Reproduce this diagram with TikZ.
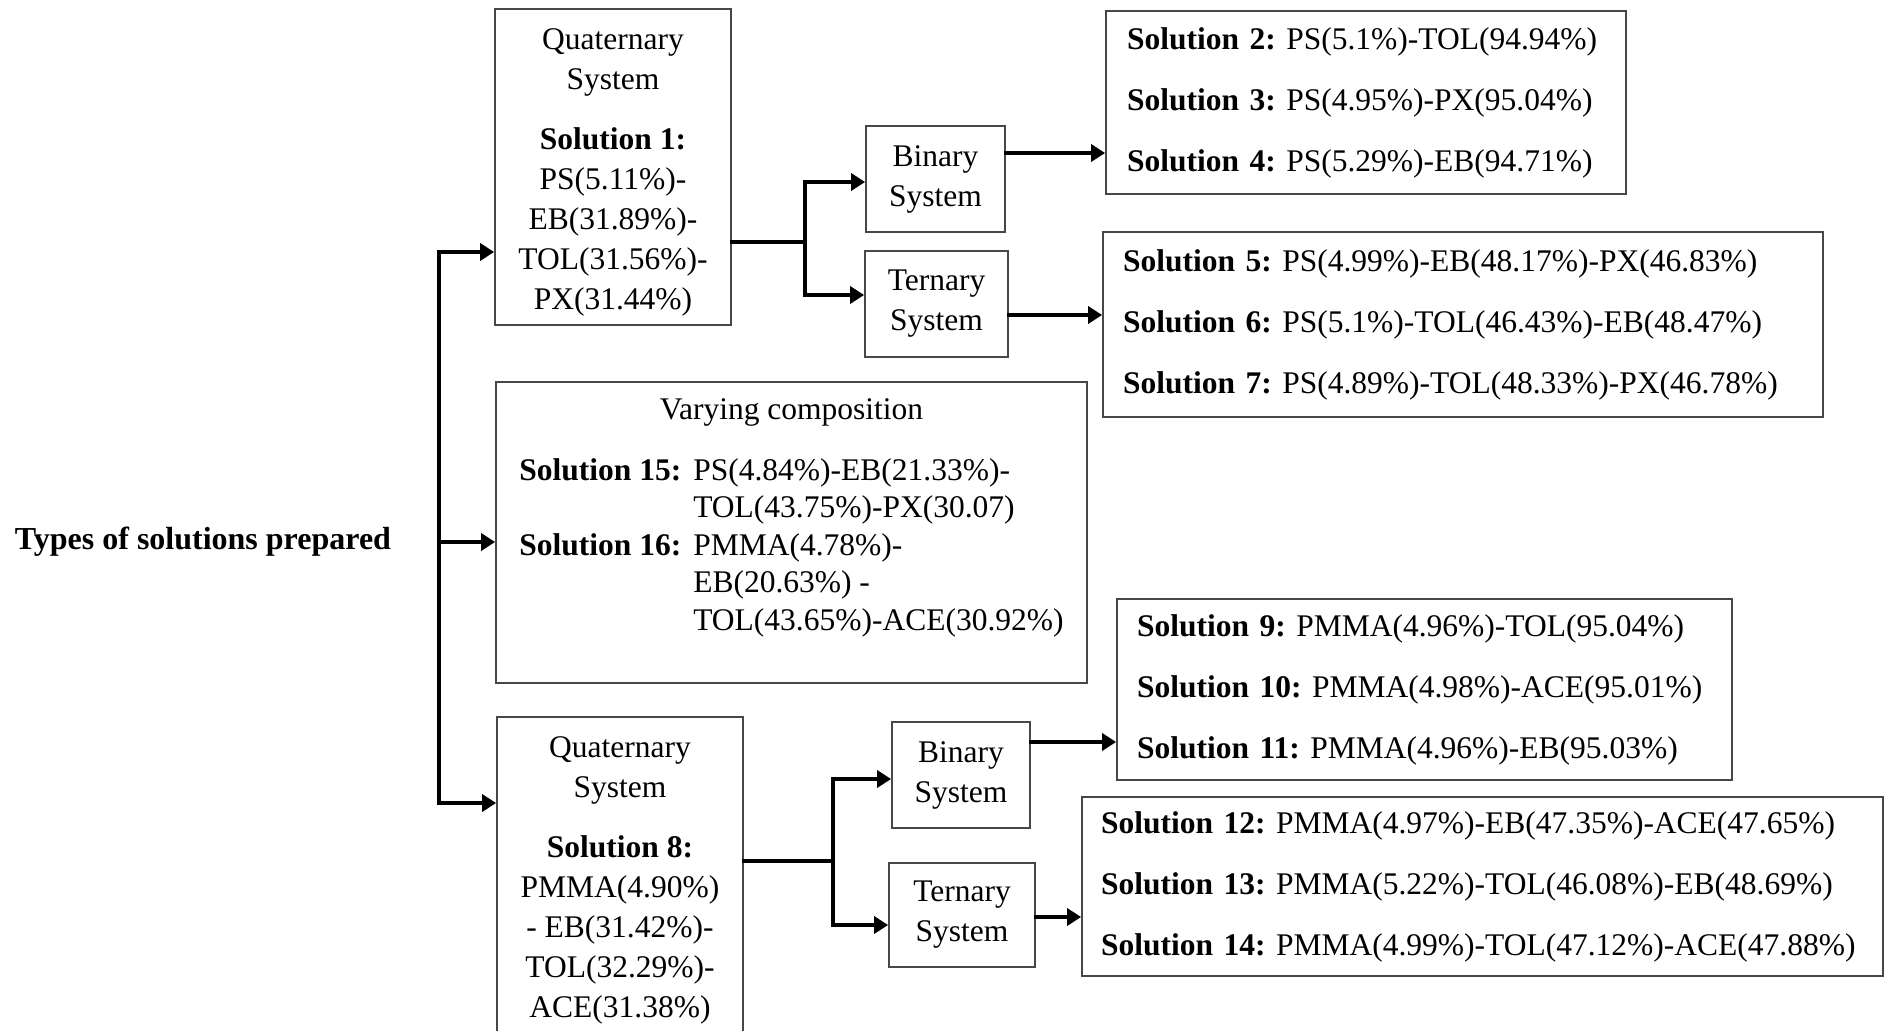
\documentclass[tikz,border=0pt]{standalone}
\usepackage{fontspec}
\setmainfont{Liberation Serif}
\usetikzlibrary{arrows.meta}
\frenchspacing
\begin{document}
\begin{tikzpicture}[x=1pt,y=-1pt,
  box/.style={draw=black!72, line width=1.8pt, inner sep=0pt, align=center,
    font=\fontsize{31.5}{40}\selectfont},
  solbox/.style={draw=black!72, line width=1.8pt, inner ysep=0pt, align=left,
    font=\fontsize{31.5}{40}\selectfont},
  conn/.style={line width=4.2pt, line cap=rect},
  arr/.style={conn, -{Triangle[length=14pt,width=17pt]}}]
\useasboundingbox (0,0) rectangle (1886,1030);
\clip (0,0) rectangle (1886,1030);

% title
\node[font=\fontsize{32}{40}\selectfont\bfseries, inner sep=0pt] (types) at (203,542) {Types of solutions prepared};

% main boxes
\node[box, minimum width=236pt, minimum height=316pt] (q1) at (613,167)
  {\rule{0pt}{31pt}Quaternary\\System\\[20pt]\textbf{Solution 1:}\\PS(5.11\%)-\\EB(31.89\%)-\\TOL(31.56\%)-\\PX(31.44\%)};

\node[box, minimum width=591pt, minimum height=301pt, font=\fontsize{31.5}{37.5}\selectfont] (vary) at (791.5,532.5)
  {\begin{tabular}{@{}l@{\hspace{12pt}}l@{}}
   \multicolumn{2}{@{}c@{}}{Varying composition}\\[23.5pt]
   \textbf{Solution 15:} & PS(4.84\%)-EB(21.33\%)-\\
    & TOL(43.75\%)-PX(30.07)\\
   \textbf{Solution 16:} & PMMA(4.78\%)-\\
    & EB(20.63\%) -\\
    & TOL(43.65\%)-ACE(30.92\%)\\[31pt]
   \end{tabular}};

\node[box, minimum width=246pt, minimum height=316pt] (q2) at (620,875)
  {\rule{0pt}{31pt}Quaternary\\System\\[20pt]\textbf{Solution 8:}\\PMMA(4.90\%)\\- EB(31.42\%)-\\TOL(32.29\%)-\\ACE(31.38\%)};

% system boxes
\node[box, minimum width=139pt, minimum height=106pt] (b1) at (935.5,179) {Binary\\System};
\node[box, minimum width=143pt, minimum height=106pt] (t1) at (936.5,304) {Ternary\\System};
\node[box, minimum width=138pt, minimum height=106pt] (b2) at (961,775) {Binary\\System};
\node[box, minimum width=146pt, minimum height=104pt] (t2) at (962,915) {Ternary\\System};

% solution lists
\node[solbox, text width=478pt, inner xsep=21pt, minimum height=183pt] (s24) at (1366,102.5)
  {\textbf{Solution 2:} PS(5.1\%)-TOL(94.94\%)\\[21pt]
   \textbf{Solution 3:} PS(4.95\%)-PX(95.04\%)\\[21pt]
   \textbf{Solution 4:} PS(5.29\%)-EB(94.71\%)};
\node[solbox, text width=680pt, inner xsep=20pt, minimum height=185pt] (s57) at (1463,324.5)
  {\textbf{Solution 5:} PS(4.99\%)-EB(48.17\%)-PX(46.83\%)\\[21pt]
   \textbf{Solution 6:} PS(5.1\%)-TOL(46.43\%)-EB(48.47\%)\\[21pt]
   \textbf{Solution 7:} PS(4.89\%)-TOL(48.33\%)-PX(46.78\%)};
\node[solbox, text width=575pt, inner xsep=20pt, minimum height=181pt] (s911) at (1424.5,689.5)
  {\textbf{Solution 9:} PMMA(4.96\%)-TOL(95.04\%)\\[21pt]
   \textbf{Solution 10:} PMMA(4.98\%)-ACE(95.01\%)\\[21pt]
   \textbf{Solution 11:} PMMA(4.96\%)-EB(95.03\%)};
\node[solbox, text width=763pt, inner xsep=19pt, minimum height=179pt] (s1214) at (1482.5,886.5)
  {\textbf{Solution 12:} PMMA(4.97\%)-EB(47.35\%)-ACE(47.65\%)\\[21pt]
   \textbf{Solution 13:} PMMA(5.22\%)-TOL(46.08\%)-EB(48.69\%)\\[21pt]
   \textbf{Solution 14:} PMMA(4.99\%)-TOL(47.12\%)-ACE(47.88\%)};

% trunk
\coordinate (ta) at (439,252);
\coordinate (tb) at (439,542);
\coordinate (tc) at (439,803);
\draw[conn] (ta) -- (tc);
\draw[arr] (ta) -- (q1.west |- ta);
\draw[arr] (tb) -- (vary.west |- tb);
\draw[arr] (tc) -- (q2.west |- tc);

% branch 1
\coordinate (j1) at (805,242);
\coordinate (j1a) at (805,182);
\coordinate (j1b) at (805,295);
\draw[conn] (q1.east |- j1) -- (j1);
\draw[conn] (j1a) -- (j1b);
\draw[arr] (j1a) -- (b1.west |- j1a);
\draw[arr] (j1b) -- (t1.west |- j1b);
\draw[arr] (b1.east |- 0,153) -- (s24.west |- 0,153);
\draw[arr] (t1.east |- 0,315) -- (s57.west |- 0,315);

% branch 2
\coordinate (j2) at (833,861);
\coordinate (j2a) at (833,779);
\coordinate (j2b) at (833,925);
\draw[conn] (q2.east |- j2) -- (j2);
\draw[conn] (j2a) -- (j2b);
\draw[arr] (j2a) -- (b2.west |- j2a);
\draw[arr] (j2b) -- (t2.west |- j2b);
\draw[arr] (b2.east |- 0,742) -- (s911.west |- 0,742);
\draw[arr] (t2.east |- 0,917) -- (s1214.west |- 0,917);
\end{tikzpicture}
\end{document}
